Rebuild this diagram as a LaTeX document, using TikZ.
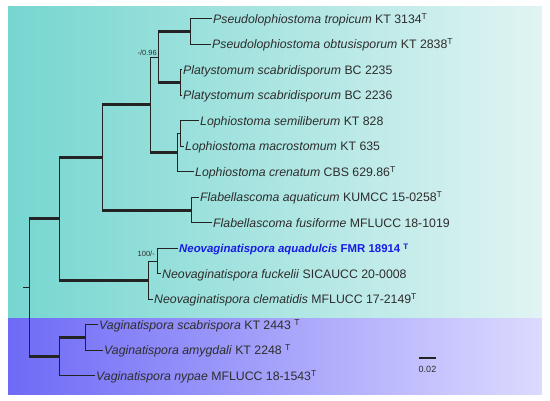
\documentclass[tikz,border=0pt]{standalone}
\usepackage{fontspec}
\setmainfont{Liberation Sans}
\usepackage{xcolor}
\usetikzlibrary{positioning, calc}

\definecolor{treeline}{RGB}{35,35,35}
\definecolor{taxontext}{RGB}{45,45,45}
\definecolor{newtaxon}{RGB}{22,28,228}
\definecolor{cladeAleft}{RGB}{118,214,208}
\definecolor{cladeAright}{RGB}{224,244,243}
\definecolor{cladeBleft}{RGB}{110,106,246}
\definecolor{cladeBright}{RGB}{220,218,255}

\begin{document}
\begin{tikzpicture}[
    x=1pt, y=-1pt,
    branch/.style={draw=treeline, line width=1pt, line cap=rect},
    boldbranch/.style={draw=treeline, line width=3pt},
    taxon/.style={anchor=west, inner xsep=2pt, inner ysep=0pt, text height=9pt, text depth=0pt,
        font=\fontsize{12.3}{14}\selectfont, text=taxontext},
    support/.style={anchor=south east, inner sep=1pt, font=\fontsize{7.5}{8}\selectfont, text=taxontext}
]
\useasboundingbox (0,0) rectangle (550,401);

% ==================== BACKGROUND BANDS ====================
\shade[left color=cladeAleft, right color=cladeAright] (8,7) rectangle (542,319);
\shade[left color=cladeBleft, right color=cladeBright] (8,319) rectangle (542,395);

% ==================== TIPS ====================
\node[taxon] (t1) at (211,19) {\textit{Pseudolophiostoma tropicum} KT 3134\textsuperscript{T}};
\node[taxon] (t2) at (210,44.5) {\textit{Pseudolophiostoma obtusisporum} KT 2838\textsuperscript{T}};
\node[taxon] (t3) at (181,70) {\textit{Platystomum scabridisporum} BC 2235};
\node[taxon] (t4) at (181,95.5) {\textit{Platystomum scabridisporum} BC 2236};
\node[taxon] (t5) at (198,121) {\textit{Lophiostoma semiliberum} KT 828};
\node[taxon] (t6) at (183,146.5) {\textit{Lophiostoma macrostomum} KT 635};
\node[taxon] (t7) at (193,172) {\textit{Lophiostoma crenatum} CBS 629.86\textsuperscript{T}};
\node[taxon] (t8) at (198,197.5) {\textit{Flabellascoma aquaticum} KUMCC 15-0258\textsuperscript{T}};
\node[taxon] (t9) at (211,223) {\textit{Flabellascoma fusiforme} MFLUCC 18-1019};
\node[taxon, text=newtaxon, font=\fontsize{11.4}{13}\selectfont] (t10) at (177,248.5) {\textbf{\textit{Neovaginatispora aquadulcis} FMR 18914 \textsuperscript{T}}};
\node[taxon] (t11) at (160,274) {\textit{Neovaginatispora fuckelii} SICAUCC 20-0008};
\node[taxon] (t12) at (152,299.5) {\textit{Neovaginatispora clematidis} MFLUCC 17-2149\textsuperscript{T}};
\node[taxon] (t13) at (97,325) {\textit{Vaginatispora scabrispora} KT 2443 \textsuperscript{T}};
\node[taxon] (t14) at (102,350.5) {\textit{Vaginatispora amygdali} KT 2248 \textsuperscript{T}};
\node[taxon] (t15) at (94,376) {\textit{Vaginatispora nypae} MFLUCC 18-1543\textsuperscript{T}};

% ==================== INTERNAL NODES ====================
\coordinate (nA) at (190,31.75);
\coordinate (nC) at (180,82.75);
\coordinate (nB) at (158,57.25);
\coordinate (nD1) at (180,133.75);
\coordinate (nD) at (177,152.9);
\coordinate (nE) at (150,105);
\coordinate (nFl) at (191,210.25);
\coordinate (nF) at (102,157.6);
\coordinate (nN1) at (157,261.25);
\coordinate (nN) at (148,280.4);
\coordinate (nH) at (59,219);
\coordinate (nV1) at (85,337.75);
\coordinate (nV) at (59,356.9);
\coordinate (root) at (29,288);
\coordinate (stub) at (23,288);

% Pseudolophiostoma + Platystomum
\draw[branch] (nA |- t1.west) -- (nA |- t2.west);
\draw[branch] (nA |- t1.west) -- (t1.west);
\draw[branch] (nA |- t2.west) -- (t2.west);
\draw[branch] (nC |- t3.west) -- (nC |- t4.west);
\draw[branch] (nC |- t3.west) -- (t3.west);
\draw[branch] (nC |- t4.west) -- (t4.west);
\draw[branch] (nB |- nA) -- (nB |- nC);
\draw[boldbranch] (nB |- nA) -- (nA);
\draw[boldbranch] (nB |- nC) -- (nC);
\node[support] (s1) at (nB) {-/0.96};

% Lophiostoma
\draw[branch] (nD1 |- t5.west) -- (nD1 |- t6.west);
\draw[branch] (nD1 |- t5.west) -- (t5.west);
\draw[branch] (nD1 |- t6.west) -- (t6.west);
\draw[branch] (nD |- nD1) -- (nD |- t7.west);
\draw[branch] (nD |- nD1) -- (nD1);
\draw[branch] (nD |- t7.west) -- (t7.west);
\draw[branch] (nE |- nB) -- (nE |- nD);
\draw[branch] (nE |- nB) -- (nB);
\draw[boldbranch] (nE |- nD) -- (nD);

% Flabellascoma
\draw[branch] (nFl |- t8.west) -- (nFl |- t9.west);
\draw[branch] (nFl |- t8.west) -- (t8.west);
\draw[branch] (nFl |- t9.west) -- (t9.west);
\draw[branch] (nF |- nE) -- (nF |- nFl);
\draw[boldbranch] (nF |- nE) -- (nE);
\draw[boldbranch] (nF |- nFl) -- (nFl);

% Neovaginatispora
\draw[branch] (nN1 |- t10.west) -- (nN1 |- t11.west);
\draw[branch] (nN1 |- t10.west) -- (t10.west);
\draw[branch] (nN1 |- t11.west) -- (t11.west);
\draw[branch] (nN |- nN1) -- (nN |- t12.west);
\draw[branch] (nN |- nN1) -- (nN1);
\draw[branch] (nN |- t12.west) -- (t12.west);
\node[support, xshift=-1pt, yshift=3pt] (s2) at (nN1) {100/-};
\draw[branch] (nH |- nF) -- (nH |- nN);
\draw[boldbranch] (nH |- nF) -- (nF);
\draw[boldbranch] (nH |- nN) -- (nN);

% Vaginatispora
\draw[branch] (nV1 |- t13.west) -- (nV1 |- t14.west);
\draw[branch] (nV1 |- t13.west) -- (t13.west);
\draw[branch] (nV1 |- t14.west) -- (t14.west);
\draw[branch] (nV |- nV1) -- (nV |- t15.west);
\draw[boldbranch] (nV |- nV1) -- (nV1);
\draw[branch] (nV |- t15.west) -- (t15.west);

% Root
\draw[branch] (root |- nH) -- (root |- nV);
\draw[boldbranch] (root |- nH) -- (nH);
\draw[boldbranch] (root |- nV) -- (nV);
\draw[branch] (stub) -- (root);

% Scale bar
\coordinate (sbl) at (419,358);
\coordinate (sbr) at (436,358);
\draw[draw=treeline, line width=2pt] (sbl) -- (sbr);
\node[font=\fontsize{9}{10}\selectfont, text=taxontext, below=5pt of $(sbl)!0.5!(sbr)$] (sblabel) {0.02};

\end{tikzpicture}
\end{document}
